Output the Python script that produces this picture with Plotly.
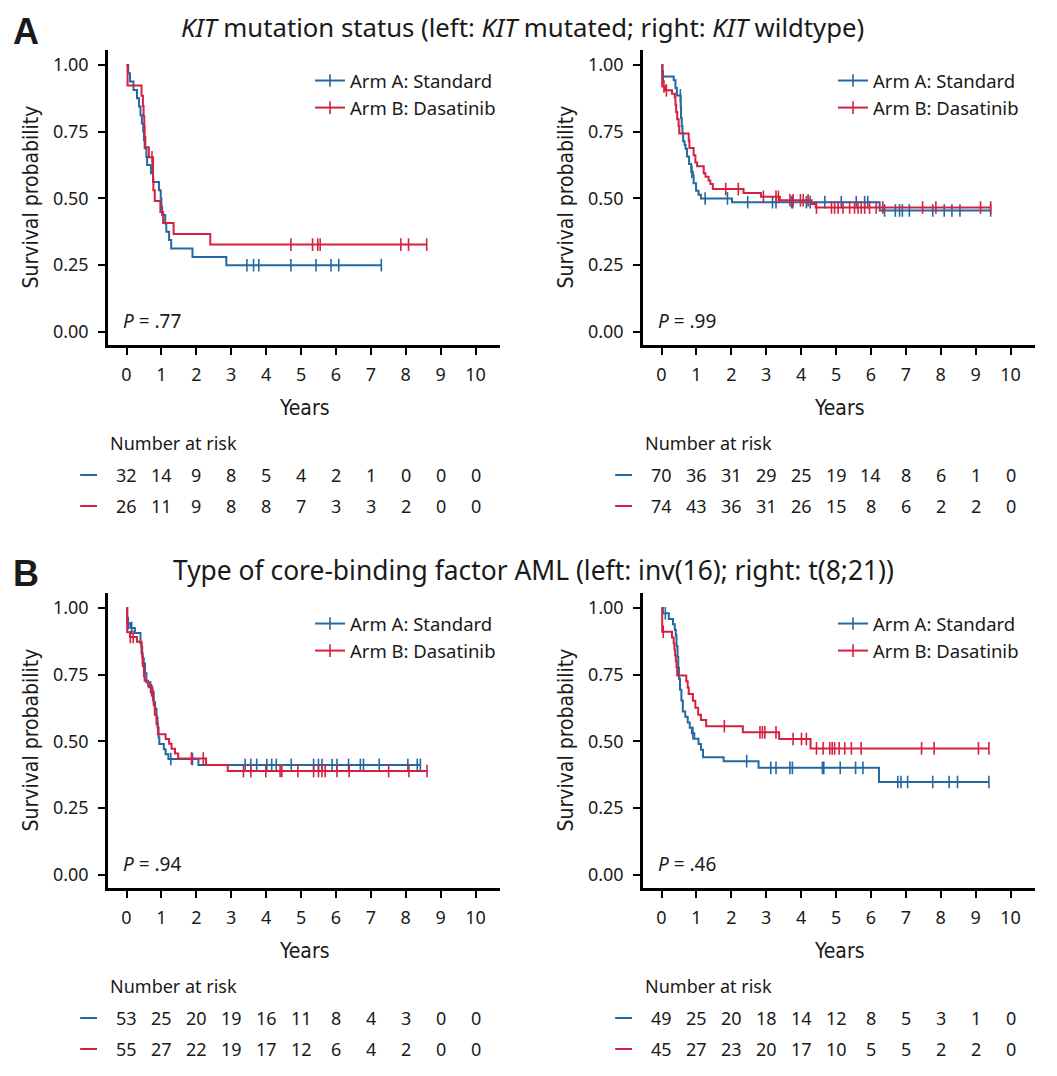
import plotly.graph_objects as go

# page body has an 8px margin, so the figure is drawn 8px in from the top-left corner
OFF = 8
W, H = 1057 - 2 * OFF, 1076 - 2 * OFF
BLUE = "#2468a2"
RED = "#d6203f"
INK = "#1a1a1a"
FONT = "Noto Sans"
NARROW = "Liberation Sans Narrow, DejaVu Sans Condensed, sans-serif"

years = list(range(11))

# ---- A left: KIT mutated ----
kitmut_std_t = [0.05, 0.10, 0.20, 0.30, 0.36, 0.40, 0.44, 0.48, 0.50, 0.52, 0.57, 0.59,
                0.70, 0.76, 0.93, 0.98, 1.00, 1.02, 1.11, 1.14, 1.22, 1.28, 1.89, 2.86]
kitmut_std_s = [0.969, 0.938, 0.906, 0.875, 0.844, 0.812, 0.781, 0.750, 0.719, 0.688, 0.656, 0.625,
                0.594, 0.562, 0.531, 0.500, 0.469, 0.438, 0.406, 0.375, 0.344, 0.312, 0.281, 0.250]
kitmut_std_cens = [3.45, 3.64, 3.79, 4.71, 5.43, 5.86, 6.08, 7.30]
kitmut_das_t = [0.03, 0.43, 0.47, 0.49, 0.51, 0.52, 0.54, 0.64, 0.76, 0.77, 0.81, 0.97, 1.05, 1.35, 2.40]
kitmut_das_s = [0.923, 0.885, 0.846, 0.808, 0.769, 0.731, 0.692, 0.654, 0.572, 0.531, 0.490,
                0.449, 0.408, 0.367, 0.327]
kitmut_das_cens = [0.73, 4.71, 5.33, 5.48, 5.55, 7.86, 8.08, 8.60]
kitmut_risk_std = [32, 14, 9, 8, 5, 4, 2, 1, 0, 0, 0]
kitmut_risk_das = [26, 11, 9, 8, 8, 7, 3, 3, 2, 0, 0]

# ---- A right: KIT wildtype ----
kitwt_std_t = [0.03, 0.35, 0.40, 0.44, 0.55, 0.56, 0.58, 0.60, 0.62, 0.66, 0.69, 0.73, 0.79,
               0.85, 0.90, 0.92, 0.99, 1.06, 1.13, 2.02, 6.25]
kitwt_std_s = [0.957, 0.943, 0.914, 0.886, 0.843, 0.800, 0.771, 0.743, 0.714, 0.700, 0.686, 0.657,
               0.629, 0.600, 0.586, 0.557, 0.529, 0.514, 0.500, 0.486, 0.455]
kitwt_std_cens = [0.05, 0.54, 0.87, 1.25, 1.89, 2.47, 3.18, 3.28, 3.73, 3.76, 4.15, 4.26, 4.68,
                  5.15, 5.58, 5.82, 5.91, 6.39, 6.70, 6.82, 6.90, 7.10, 7.77, 8.10, 8.32, 8.55, 9.43]
kitwt_das_t = [0.02, 0.10, 0.30, 0.38, 0.40, 0.42, 0.45, 0.49, 0.51, 0.78, 0.80, 0.92, 0.97, 1.02,
               1.21, 1.26, 1.35, 1.40, 1.47, 2.35, 2.85, 3.39, 4.30, 4.42]
kitwt_das_s = [0.919, 0.905, 0.892, 0.878, 0.851, 0.824, 0.797, 0.770, 0.743, 0.716, 0.689, 0.662,
               0.635, 0.621, 0.594, 0.581, 0.567, 0.554, 0.535, 0.520, 0.506, 0.493, 0.479, 0.466]
kitwt_das_cens = [0.07, 0.14, 1.84, 2.20, 2.92, 3.28, 3.35, 3.68, 3.77, 3.98, 4.06, 4.20, 4.44,
                  4.87, 4.96, 5.06, 5.20, 5.39, 5.53, 5.63, 5.72, 5.82, 5.96, 6.15, 6.34, 7.48,
                  7.86, 9.14, 9.43]
kitwt_risk_std = [70, 36, 31, 29, 25, 19, 14, 8, 6, 1, 0]
kitwt_risk_das = [74, 43, 36, 31, 26, 15, 8, 6, 2, 2, 0]

# ---- B left: inv(16) ----
inv16_std_t = [0.02, 0.11, 0.24, 0.40, 0.43, 0.46, 0.53, 0.57, 0.64, 0.74, 0.78, 0.82, 0.86,
               0.89, 0.92, 0.94, 1.07, 1.12, 1.20, 2.06]
inv16_std_s = [0.943, 0.925, 0.906, 0.868, 0.830, 0.792, 0.755, 0.722, 0.703, 0.684, 0.647, 0.622,
               0.590, 0.552, 0.515, 0.490, 0.471, 0.452, 0.434, 0.412]
inv16_std_cens = [0.05, 0.15, 0.50, 0.69, 1.27, 1.89, 3.40, 3.56, 3.73, 4.02, 4.16, 4.29, 4.72,
                  5.36, 5.50, 5.60, 5.89, 6.03, 6.36, 6.70, 6.79, 7.24, 8.06, 8.33, 8.42]
inv16_das_t = [0.02, 0.10, 0.30, 0.43, 0.45, 0.47, 0.50, 0.52, 0.62, 0.70, 0.76, 0.78, 0.81,
               0.86, 0.90, 1.12, 1.22, 1.29, 1.39, 1.48, 2.28, 2.90]
inv16_das_s = [0.909, 0.891, 0.873, 0.855, 0.818, 0.782, 0.745, 0.727, 0.709, 0.691, 0.655, 0.636,
               0.600, 0.564, 0.527, 0.509, 0.491, 0.473, 0.455, 0.436, 0.412, 0.389]
inv16_das_cens = [0.11, 0.19, 0.72, 1.86, 2.20, 3.35, 3.56, 3.99, 4.40, 4.45, 4.91, 5.36, 5.50,
                  5.60, 5.69, 6.03, 6.38, 7.51, 8.09, 8.61]
inv16_risk_std = [53, 25, 20, 19, 16, 11, 8, 4, 3, 0, 0]
inv16_risk_das = [55, 27, 22, 19, 17, 12, 6, 4, 2, 0, 0]

# ---- B right: t(8;21) ----
t821_std_t = [0.04, 0.21, 0.33, 0.38, 0.41, 0.43, 0.46, 0.48, 0.50, 0.53, 0.57, 0.61, 0.68, 0.75,
              0.81, 0.87, 0.94, 1.06, 1.13, 1.19, 1.78, 2.78, 6.23]
t821_std_s = [0.980, 0.959, 0.939, 0.918, 0.898, 0.857, 0.816, 0.776, 0.735, 0.694, 0.653, 0.612,
              0.592, 0.571, 0.551, 0.531, 0.510, 0.490, 0.469, 0.441, 0.426, 0.401, 0.348]
t821_std_cens = [0.11, 0.90, 2.44, 3.13, 3.28, 3.68, 3.75, 4.61, 4.65, 5.12, 5.56, 5.77, 6.77,
                 6.86, 7.05, 7.77, 8.24, 8.48, 9.38]
t821_das_t = [0.02, 0.30, 0.35, 0.37, 0.39, 0.41, 0.43, 0.45, 0.71, 0.75, 0.78, 0.90, 0.97, 1.05,
              1.13, 1.28, 2.33, 3.37, 4.27]
t821_das_s = [0.911, 0.889, 0.867, 0.844, 0.822, 0.800, 0.778, 0.747, 0.725, 0.702, 0.678, 0.652,
              0.626, 0.600, 0.580, 0.557, 0.534, 0.509, 0.474]
t821_das_cens = [0.05, 1.80, 2.82, 2.89, 2.96, 3.28, 3.77, 4.01, 4.15, 4.44, 4.63, 4.82, 4.89,
                 4.96, 5.09, 5.25, 5.44, 5.72, 7.45, 7.81, 9.08, 9.38]
t821_risk_std = [49, 25, 20, 18, 14, 12, 8, 5, 3, 1, 0]
t821_risk_das = [45, 27, 23, 20, 17, 10, 5, 5, 2, 2, 0]

p_values = [".77", ".99", ".94", ".46"]
titles = ["<i>KIT</i> mutation status (left: <i>KIT</i> mutated; right: <i>KIT</i> wildtype)",
          "Type of core-binding factor AML (left: inv(16); right: t(8;21))"]

panels = [
    dict(std=(kitmut_std_t, kitmut_std_s, kitmut_std_cens), das=(kitmut_das_t, kitmut_das_s, kitmut_das_cens),
         risk=(kitmut_risk_std, kitmut_risk_das), left=108, top=50, leg=310),
    dict(std=(kitwt_std_t, kitwt_std_s, kitwt_std_cens), das=(kitwt_das_t, kitwt_das_s, kitwt_das_cens),
         risk=(kitwt_risk_std, kitwt_risk_das), left=643, top=50, leg=833),
    dict(std=(inv16_std_t, inv16_std_s, inv16_std_cens), das=(inv16_das_t, inv16_das_s, inv16_das_cens),
         risk=(inv16_risk_std, inv16_risk_das), left=108, top=593, leg=310),
    dict(std=(t821_std_t, t821_std_s, t821_std_cens), das=(t821_das_t, t821_das_s, t821_das_cens),
         risk=(t821_risk_std, t821_risk_das), left=643, top=593, leg=833),
]

PW, PH = 392, 295


def px(x):
    return (x - OFF) / W


def py(y):
    return 1 - (y - OFF) / H


def step_at(t, times, surv):
    s = 1.0
    for ti, si in zip(times, surv):
        if ti <= t:
            s = si
    return s


def note(text, x, y, size, family=FONT, **kw):
    d = dict(text=text, xref="paper", yref="paper", x=x, y=y, xanchor="center", yanchor="middle",
             showarrow=False, font=dict(size=size, color=INK, family=family))
    d.update(kw)
    return d


fig = go.Figure()
annotations = []
shapes = []

for i, p in enumerate(panels):
    n = "" if i == 0 else str(i + 1)
    xa, ya, lg = "x" + n, "y" + n, "legend" + n
    for key, color, name in (("std", BLUE, "Arm A: Standard"), ("das", RED, "Arm B: Dasatinib")):
        t, s, c = p[key]
        end = max(t[-1], c[-1])
        fig.add_trace(go.Scatter(
            x=[0] + t + [end], y=[1.0] + s + [s[-1]], mode="lines", line=dict(color=color, width=2, shape="hv"),
            xaxis=xa, yaxis=ya, showlegend=False, hoverinfo="skip"))
        fig.add_trace(go.Scatter(
            x=c, y=[step_at(ct, t, s) for ct in c], mode="markers",
            marker=dict(symbol="line-ns", size=9, line=dict(color=color, width=1.6)),
            xaxis=xa, yaxis=ya, showlegend=False, hoverinfo="skip"))
        fig.add_trace(go.Scatter(
            x=[None], y=[None], mode="lines+markers", name=name, legend=lg,
            line=dict(color=color, width=2),
            marker=dict(symbol="line-ns", size=9, line=dict(color=color, width=1.6)),
            xaxis=xa, yaxis=ya))

    left, top = p["left"], p["top"]
    axis_common = dict(showline=True, linewidth=2.5, linecolor="black", ticks="outside", ticklen=7,
                       tickwidth=2, tickcolor="black", showgrid=False, zeroline=False,
                       tickfont=dict(size=18, color=INK, family=FONT))
    fig.layout["xaxis" + n] = dict(domain=[px(left), px(left + PW)], range=[-0.53, 10.7], anchor=ya,
                                   tickvals=years, ticklabelstandoff=5, **axis_common)
    fig.layout["yaxis" + n] = dict(domain=[py(top + PH), py(top)], range=[-0.049, 1.056], anchor=xa,
                                   tickvals=[0, 0.25, 0.5, 0.75, 1.0], tickformat=".2f",
                                   ticklabelstandoff=6, **axis_common)
    fig.layout[lg] = dict(x=px(p["leg"]), y=py(top + 12), xanchor="left", yanchor="top",
                          bgcolor="rgba(0,0,0,0)", font=dict(size=18.5, color=INK, family=FONT))

    annotations.append(note("Survival probability", px(left - 78), py(top + PH / 2), 21, NARROW, textangle=-90))
    annotations.append(note("Years", px(left + PW / 2), py(top + 358), 21, NARROW))
    annotations.append(note("<i>P</i> = " + p_values[i], -0.15, 0.04, 19, xref=xa, yref=ya, xanchor="left"))
    annotations.append(note("Number at risk", 0.0, py(top + 393), 18, xref=xa + " domain", xanchor="left"))
    for row, (counts, color) in enumerate(zip(p["risk"], (BLUE, RED))):
        ry = py(top + 425 + 31 * row)
        for yr, cnt in zip(years, counts):
            annotations.append(note(str(cnt), yr, ry, 18, xref=xa))
        shapes.append(dict(type="line", xref=xa + " domain", yref="paper", x0=-0.071, x1=-0.028, y0=ry, y1=ry,
                           line=dict(color=color, width=2)))

for letter, ty, title, tx, tsize in (("A", 31, titles[0], 522, 25.7), ("B", 573, titles[1], 533, 26.4)):
    annotations.append(note("<b>" + letter + "</b>", px(11), py(ty), 36, "Liberation Sans", xanchor="left"))
    annotations.append(note(title, px(tx), py(ty - 3), tsize))

fig.update_layout(width=W, height=H, autosize=False, margin=dict(l=0, r=0, t=0, b=0),
                  paper_bgcolor="white", plot_bgcolor="white", font=dict(family=FONT, color=INK),
                  annotations=annotations, shapes=shapes)

fig.write_html("out.html")
